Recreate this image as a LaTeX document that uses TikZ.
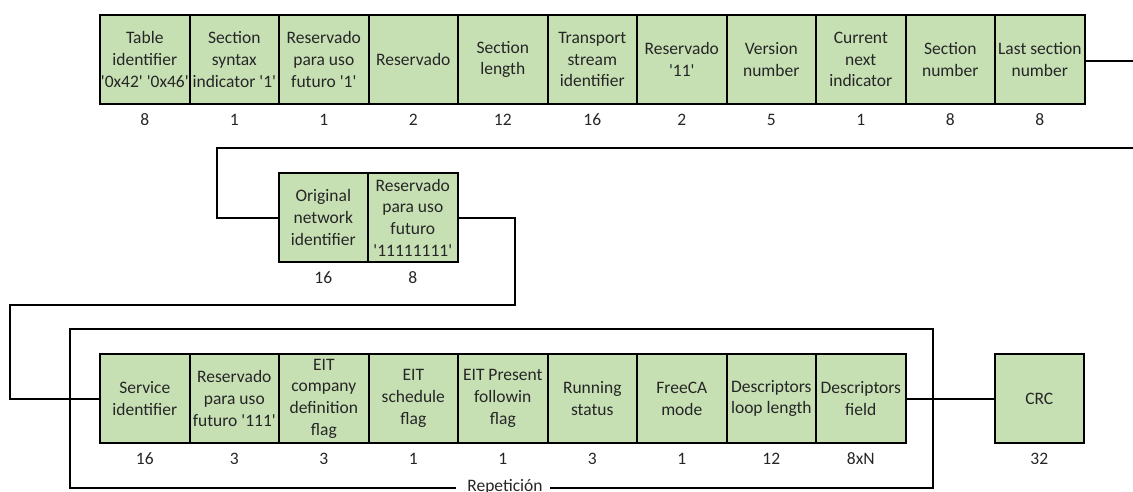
\documentclass[tikz,border=0pt]{standalone}
\usepackage{fontspec}
% a family without TeX ligature mapping keeps the straight quotes
\newfontfamily\carlito{Carlito}
\definecolor{fieldgreen}{HTML}{C6E0B4}
\definecolor{inktext}{HTML}{262626}
\begin{document}
\begin{tikzpicture}[x=1pt,y=-1pt,
  field/.style={draw=black, line width=2.1pt, fill=fieldgreen,
    minimum width=89.5pt, minimum height=89pt, inner sep=0pt,
    anchor=north west, align=center, text=inktext,
    font=\carlito\fontsize{17.5}{21.7}\selectfont},
  bitlabel/.style={text=inktext, inner sep=0pt,
    font=\carlito\fontsize{17.5}{21}\selectfont},
  bitcount/.style={label={[bitlabel,label distance=8.5pt]below:#1}},
  wire/.style={line width=2.1pt, line cap=rect}]
\useasboundingbox (0,0) rectangle (1133,491);

% --- first row of the section header
\node[field,bitcount=8]  (tid)   at (99,14)    {Table\\identifier\\'0x42' '0x46'};
\node[field,bitcount=1]  (ssi)   at (188.5,14) {Section\\syntax\\indicator '1'};
\node[field,bitcount=1]  (rfu1)  at (278,14)   {Reservado\\para uso\\futuro '1'};
\node[field,bitcount=2]  (res2)  at (367.5,14) {Reservado};
\node[field,bitcount=12] (slen)  at (457,14)   {Section\\length};
\node[field,bitcount=16] (tsid)  at (546.5,14) {Transport\\stream\\identifier};
\node[field,bitcount=2]  (res11) at (636,14)   {Reservado\\'11'};
\node[field,bitcount=5]  (ver)   at (725.5,14) {Version\\number};
\node[field,bitcount=1]  (cni)   at (815,14)   {Current\\next\\indicator};
\node[field,bitcount=8]  (snum)  at (904.5,14) {Section\\number};
\node[field,bitcount=8]  (lsn)   at (994,14)   {Last section\\number};

% --- second row
\node[field,bitcount=16] (onid)  at (277.5,172) {Original\\network\\identifier};
\node[field,bitcount=8]  (rfu8)  at (367,172)   {Reservado\\para uso\\futuro\\'11111111'};

% --- repeated service loop
\node[field,bitcount=16]  (sid)   at (99,353)    {Service\\identifier};
\node[field,bitcount=3]   (rfu3)  at (188.5,353) {Reservado\\para uso\\futuro '111'};
\node[field,bitcount=3]   (eitc)  at (278,353)   {EIT\\company\\definition\\flag};
\node[field,bitcount=1]   (eits)  at (367.5,353) {EIT\\schedule\\flag};
\node[field,bitcount=1]   (eitp)  at (457,353)   {EIT Present\\followin\\flag};
\node[field,bitcount=3]   (run)   at (546.5,353) {Running\\status};
\node[field,bitcount=1]   (fca)   at (636,353)   {FreeCA\\mode};
\node[field,bitcount=12]  (dll)   at (725.5,353) {Descriptors\\loop length};
\node[field,bitcount=8xN] (dfld)  at (815,353)   {Descriptors\\field};

\node[field,bitcount=32]  (crc)   at (993.5,353) {CRC};

% --- loop frame
\node[bitlabel, anchor=base] (rep) at (505,491.5) {Repetición};
\draw[wire] (455,488) -- (70,488) -- (70,329) -- (933,329)
  -- (933,488) -- (551,488);

% --- connectors
\coordinate (wrapout) at (1133,61);
\coordinate (wrapin)  at (1133,148);
\draw[wire] (lsn.east |- wrapout) -- (wrapout);
\draw[wire] (wrapin) -| ([xshift=-60.5pt]onid.west) -- (onid.west);
\draw[wire] (rfu8.east) -| (515,305) -- (10,305) |- (sid.west);
\draw[wire] (dfld.east) -- (crc.west);
\end{tikzpicture}
\end{document}
